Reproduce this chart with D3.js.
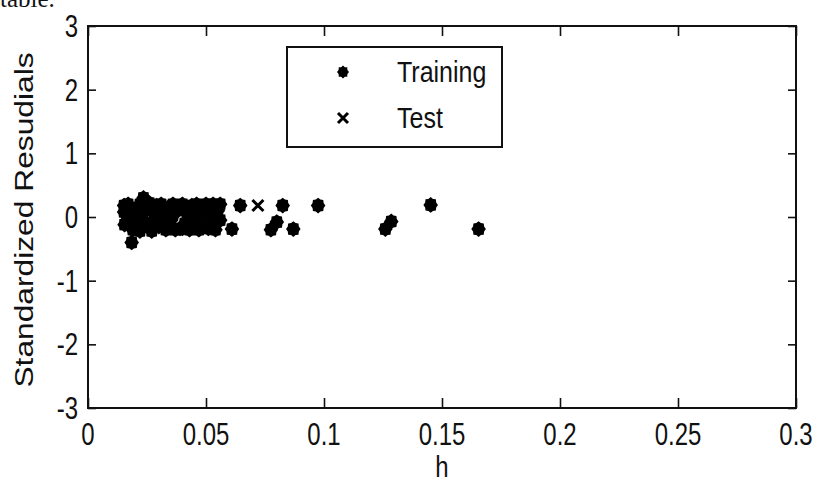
<!DOCTYPE html>
<html><head><meta charset="utf-8">
<script src="https://cdn.jsdelivr.net/npm/d3@7"></script>
<style>body{margin:0;background:#fff;} svg{display:block;}</style>
</head><body>
<svg id="c" width="816" height="486"></svg>
<script>
const xTicks = [0, 0.05, 0.1, 0.15, 0.2, 0.25, 0.3];
const xTickLabels = ["0", "0.05", "0.1", "0.15", "0.2", "0.25", "0.3"];
const yTicks = [-3, -2, -1, 0, 1, 2, 3];
const yTickLabels = ["-3", "-2", "-1", "0", "1", "2", "3"];
const trainingH = [0.0153,0.0153,0.0155,0.017,0.017,0.0185,0.019,0.0195,0.021,0.022,0.022,0.0235,0.024,0.025,0.026,0.027,0.028,0.029,0.030,0.031,0.032,0.033,0.034,0.035,0.036,0.037,0.038,0.039,0.040,0.041,0.042,0.043,0.044,0.045,0.046,0.047,0.048,0.049,0.050,0.051,0.052,0.053,0.054,0.055,0.056,0.056,
  0.020,0.027,0.031,0.036,0.040,0.044,0.047,0.052,0.023,0.034,0.043,0.050,
  0.061,0.0645,0.0775,0.080,0.0825,0.087,0.0975,0.126,0.1285,0.1452,0.1655];
const trainingR = [0.18,0.08,-0.12,0.2,-0.02,-0.40,-0.2,0.12,0.0,0.2,-0.22,0.3,0.1,-0.1,0.22,-0.22,0.05,0.18,-0.15,0.2,0.0,-0.2,0.15,-0.05,0.2,-0.2,0.1,-0.18,0.2,-0.1,0.05,-0.2,0.18,-0.05,0.2,-0.2,0.1,-0.12,0.2,-0.18,0.05,0.2,-0.2,0.1,0.2,-0.05,
  -0.12,-0.1,-0.08,0.02,-0.18,-0.15,0.0,-0.08,0.08,0.12,0.1,0.12,
  -0.19,0.18,-0.2,-0.08,0.18,-0.19,0.18,-0.19,-0.07,0.19,-0.19];
const testH = [0.072];
const testR = [0.18];
const seriesNames = ["Training", "Test"];
const xLabel = "h";
const yLabel = "Standardized Resudials";

const svg = d3.select("#c");
const L = 88, R = 796, T = 26, B = 408;
const x = d3.scaleLinear().domain([0, 0.3]).range([L, R]);
const y = d3.scaleLinear().domain([-3, 3]).range([B, T]);
const ink = "#111";
const font = "'Liberation Sans', Arial, sans-serif";
const SY = 1.3;

svg.append("text").attr("x", 0).attr("y", 7).attr("font-family", "'Liberation Serif', 'Times New Roman', serif")
  .attr("font-size", 25).attr("fill", "#111").text("table.");

const g = svg.append("g");
g.append("rect").attr("x", L).attr("y", T).attr("width", R - L).attr("height", B - T)
  .attr("fill", "#fff").attr("stroke", ink).attr("stroke-width", 2);

const axB = g.append("g").attr("transform", `translate(0,${B})`)
  .call(d3.axisBottom(x).tickValues(xTicks).tickSize(-10).tickFormat(""));
const axT = g.append("g").attr("transform", `translate(0,${T})`)
  .call(d3.axisTop(x).tickValues(xTicks).tickSize(-10).tickFormat(""));
const axL = g.append("g").attr("transform", `translate(${L},0)`)
  .call(d3.axisLeft(y).tickValues(yTicks).tickSize(-8).tickFormat(""));
const axR = g.append("g").attr("transform", `translate(${R},0)`)
  .call(d3.axisRight(y).tickValues(yTicks).tickSize(-8).tickFormat(""));
[axB, axT, axL, axR].forEach(a => {
  a.select(".domain").remove();
  a.selectAll("line").attr("stroke", ink).attr("stroke-width", 1.6);
});

xTicks.forEach((v, i) => {
  g.append("text").attr("transform", `translate(${x(v)},445) scale(1,${SY})`)
    .attr("text-anchor", "middle").attr("font-family", font).attr("font-size", 24)
    .attr("fill", ink).text(xTickLabels[i]);
});
yTicks.forEach((v, i) => {
  g.append("text").attr("transform", `translate(78,${y(v) + 11}) scale(1,${SY})`)
    .attr("text-anchor", "end").attr("font-family", font).attr("font-size", 24)
    .attr("fill", ink).text(yTickLabels[i]);
});

g.append("text").attr("transform", `translate(${(L + R) / 2},477) scale(1,1.2)`)
  .attr("text-anchor", "middle").attr("font-family", font).attr("font-size", 24)
  .attr("fill", ink).text(xLabel);
g.append("text").attr("transform", `translate(33,${(T + B) / 2 + 3}) rotate(-90) scale(1.27,1)`)
  .attr("text-anchor", "middle").attr("font-family", font).attr("font-size", 25)
  .attr("fill", ink).text(yLabel);

function bumpy(r1, r2) {
  const n = 16, p = [];
  for (let k = 0; k < n; k++) {
    const a = k * Math.PI * 2 / n, r = k % 2 ? r2 : r1;
    p.push([r * Math.cos(a), r * Math.sin(a)]);
  }
  return "M" + p.map(q => q[0].toFixed(2) + "," + q[1].toFixed(2)).join("L") + "Z";
}
const xMark = (cx, cy, s) => `M${cx - s},${cy - s}L${cx + s},${cy + s}M${cx - s},${cy + s}L${cx + s},${cy - s}`;

const pts = g.append("g");
const dotPath = bumpy(7.3, 6);
trainingH.forEach((h, i) => {
  pts.append("path").attr("d", dotPath)
    .attr("transform", `translate(${x(h)},${y(trainingR[i])}) scale(1,1.08)`).attr("fill", "#000");
});
testH.forEach((h, i) => {
  pts.append("path").attr("d", xMark(x(h), y(testR[i]), 5.5)).attr("stroke", "#000")
    .attr("stroke-width", 3).attr("fill", "none");
});

const lg = g.append("g");
lg.append("rect").attr("x", 287).attr("y", 47).attr("width", 215).attr("height", 100)
  .attr("fill", "#fff").attr("stroke", ink).attr("stroke-width", 2);
lg.append("path").attr("d", bumpy(6, 4.8)).attr("transform", "translate(343,72) scale(1,1.1)").attr("fill", "#000");
lg.append("path").attr("d", xMark(343, 118, 5)).attr("stroke", "#000").attr("stroke-width", 3).attr("fill", "none");
lg.append("text").attr("transform", "translate(397,82) scale(1,1.15)").attr("font-family", font)
  .attr("font-size", 25).attr("fill", ink).text(seriesNames[0]);
lg.append("text").attr("transform", "translate(397,128) scale(1,1.15)").attr("font-family", font)
  .attr("font-size", 25).attr("fill", ink).text(seriesNames[1]);
</script>
</body></html>
